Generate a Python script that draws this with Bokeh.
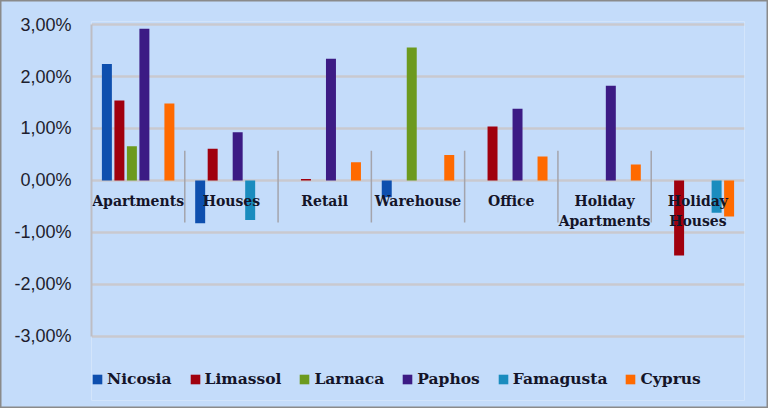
from bokeh.plotting import figure
from bokeh.models import FactorRange, Range1d, FixedTicker, ColumnDataSource
from bokeh.transform import dodge
from bokeh.embed import file_html
from bokeh.resources import INLINE

# ---- data ----
categories = ["Apartments", "Houses", "Retail", "Warehouse", "Office",
              "Holiday Apartments", "Holiday Houses"]
label_line1 = ["Apartments", "Houses", "Retail", "Warehouse", "Office", "Holiday", "Holiday"]
label_line2 = ["", "", "", "", "", "Apartments", "Houses"]

series_names = ["Nicosia", "Limassol", "Larnaca", "Paphos", "Famagusta", "Cyprus"]
nicosia   = [2.24, -0.82, 0.00, -0.32, 0.00, 0.00, 0.00]
limassol  = [1.54, 0.61, 0.03, 0.00, 1.04, 0.00, -1.44]
larnaca   = [0.66, 0.00, 0.00, 2.56, 0.00, 0.00, 0.00]
paphos    = [2.92, 0.93, 2.34, 0.00, 1.38, 1.82, 0.00]
famagusta = [0.00, -0.76, 0.00, 0.00, 0.00, 0.00, -0.62]
cyprus    = [1.48, 0.00, 0.35, 0.49, 0.46, 0.31, -0.69]
series_values = [nicosia, limassol, larnaca, paphos, famagusta, cyprus]

yticks = [-3, -2, -1, 0, 1, 2, 3]
ytick_labels = ["-3,00%", "-2,00%", "-1,00%", "0,00%", "1,00%", "2,00%", "3,00%"]

# ---- styles ----
colors = ["#0E4FAE", "#A0000E", "#6C9A1E", "#3C1B84", "#1A8CBE", "#FF6A00"]
bg = "#C4DCFA"
text_col = "#141428"

p = figure(
    x_range=FactorRange(*categories),
    y_range=Range1d(-4.2308, 3.0577),
    width=768, height=408,
    output_backend="svg", toolbar_location=None,
    x_axis_location=None,
    min_border_left=91, min_border_right=24, min_border_top=21, min_border_bottom=8,
)
p.background_fill_color = bg
p.border_fill_color = bg
p.border_line_color = "#8A8A8A"
p.border_line_width = 2
p.outline_line_color = None

p.xgrid.visible = False
p.ygrid.ticker = FixedTicker(ticks=yticks)
p.ygrid.grid_line_color = "#C9C9CF"
p.ygrid.grid_line_width = 2.5

ax = p.yaxis[0]
ax.ticker = FixedTicker(ticks=yticks)
ax.major_label_overrides = {t: lab for t, lab in zip(yticks, ytick_labels)}
ax.bounds = (min(yticks), max(yticks))
ax.axis_line_color = "#BDBDC4"
ax.axis_line_width = 2
ax.major_tick_line_color = None
ax.minor_tick_line_color = None
ax.major_label_standoff = 14
ax.major_label_text_font = "Liberation Sans"
ax.major_label_text_font_size = "18px"
ax.major_label_text_color = "#1E1E2E"

n = len(series_names)
step = 0.134
for i, (name, vals, col) in enumerate(zip(series_names, series_values, colors)):
    src = ColumnDataSource(dict(cat=categories, v=vals))
    off = (i - (n - 1) / 2) * step
    p.vbar(x=dodge("cat", off, range=p.x_range), top="v", bottom=0, width=0.107,
           source=src, fill_color=col, line_color=None, legend_label=name)

# category separators (between factors)
seps = list(range(1, len(categories)))
p.segment(x0=seps, y0=[0.57] * len(seps), x1=seps, y1=[-0.81] * len(seps),
          line_color="#A4A4AC", line_width=1.5)

# category labels
lab_src = ColumnDataSource(dict(cat=categories, l1=label_line1, l2=label_line2))
for col_name, yv in (("l1", -0.40), ("l2", -0.78)):
    p.text(x="cat", y=yv, text=col_name, source=lab_src, text_align="center",
           text_baseline="middle", text_font_size="14px", text_font_style="bold",
           text_color=text_col, text_font={"value": "DejaVu Serif"})

lg = p.legend[0]
lg.orientation = "horizontal"
lg.location = (0, 12)
lg.glyph_width = 12
lg.glyph_height = 12
lg.label_standoff = 4
lg.spacing = 17
lg.padding = 0
lg.margin = 0
lg.background_fill_alpha = 0
lg.border_line_alpha = 0
lg.label_text_font = "DejaVu Serif"
lg.label_text_font_style = "bold"
lg.label_text_font_size = "15.5px"
lg.label_text_color = text_col

open("out.html", "w").write(file_html(p, INLINE))
